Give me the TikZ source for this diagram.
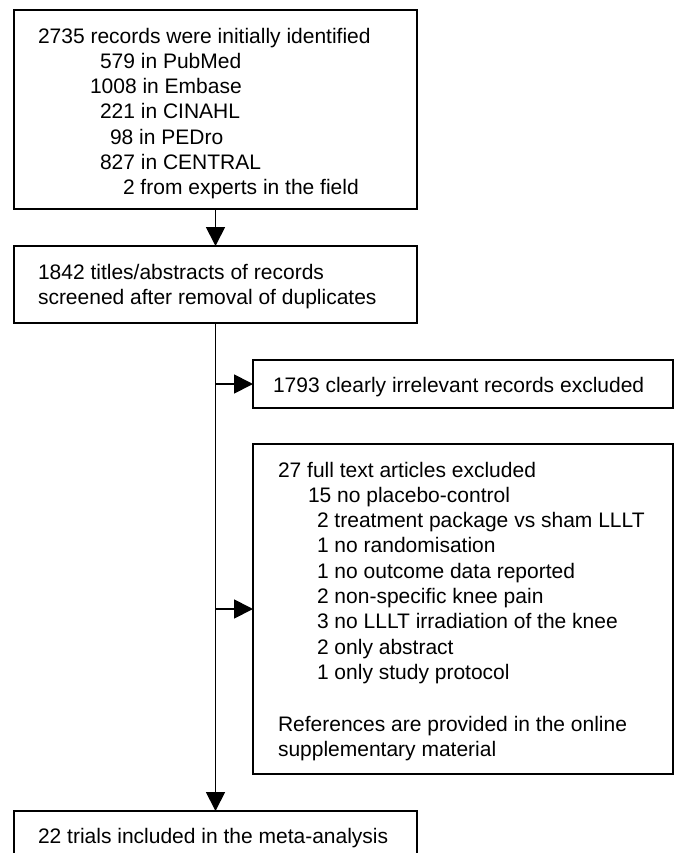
\documentclass[tikz,border=0pt]{standalone}
\usepackage{fontspec}
\setmainfont{Liberation Sans}
\usetikzlibrary{arrows.meta}
\begin{document}
\begin{tikzpicture}[x=1pt,y=-1pt,
  box/.style={draw=black, line width=1.8pt, rectangle, anchor=north west, inner sep=0pt, outer sep=0pt},
  txt/.style={anchor=base west, inner sep=0pt, outer sep=0pt, font=\fontsize{21}{25}\selectfont},
  arr/.style={line width=1.8pt, -{Triangle[length=19pt,width=19pt]}},
  link/.style={line width=1.8pt}]
\useasboundingbox (0,0) rectangle (677,853);
\clip (0,0) rectangle (677,853);
% boxes
\node[box, minimum width=403pt, minimum height=199pt] (b1) at (14,10) {};
\node[box, minimum width=403pt, minimum height=77pt] (b2) at (14,246) {};
\node[box, minimum width=420pt, minimum height=48pt] (b3) at (253,360) {};
\node[box, minimum width=420pt, minimum height=330pt] (b4) at (253,444) {};
\node[box, minimum width=403pt, minimum height=70pt] (b5) at (14,811) {};
% box 1 text
\node[txt] (t1a) at (38,43.3) {2735 records were initially identified};
\node[txt] (t1b) at (100,68.5) {579 in PubMed};
\node[txt] (t1c) at (90,93.7) {1008 in Embase};
\node[txt] (t1d) at (100,118.9) {221 in CINAHL};
\node[txt] (t1e) at (110,144.1) {98 in PEDro};
\node[txt] (t1f) at (100,169.3) {827 in CENTRAL};
\node[txt] (t1g) at (123,194.5) {2 from experts in the field};
% box 2 text
\node[txt] (t2a) at (38,279) {1842 titles/abstracts of records};
\node[txt] (t2b) at (38,304) {screened after removal of duplicates};
% box 3 text
\node[txt] (t3a) at (273,392) {1793 clearly irrelevant records excluded};
% box 4 text
\node[txt] (t4a) at (278,477) {27 full text articles excluded};
\node[txt] (t4b) at (308,502.3) {15 no placebo-control};
\node[txt] (t4c) at (317,527.6) {2 treatment package vs sham LLLT};
\node[txt] (t4d) at (317,552.9) {1 no randomisation};
\node[txt] (t4e) at (317,578.2) {1 no outcome data reported};
\node[txt] (t4f) at (317,603.5) {2 non-specific knee pain};
\node[txt] (t4g) at (317,628.8) {3 no LLLT irradiation of the knee};
\node[txt] (t4h) at (317,654.1) {2 only abstract};
\node[txt] (t4i) at (317,679.4) {1 only study protocol};
\node[txt] (t4j) at (278,731) {References are provided in the online};
\node[txt] (t4k) at (278,756.3) {supplementary material};
% box 5 text
\node[txt] (t5a) at (38,843) {22 trials included in the meta-analysis};
% connectors
\draw[arr] (b1.south) -- (b2.north);
\draw[arr] (b2.south) -- (b5.north);
\draw[arr] (b2.south |- b3.west) -- (b3.west);
\draw[arr] (b2.south |- b4.west) -- (b4.west);
\end{tikzpicture}
\end{document}
